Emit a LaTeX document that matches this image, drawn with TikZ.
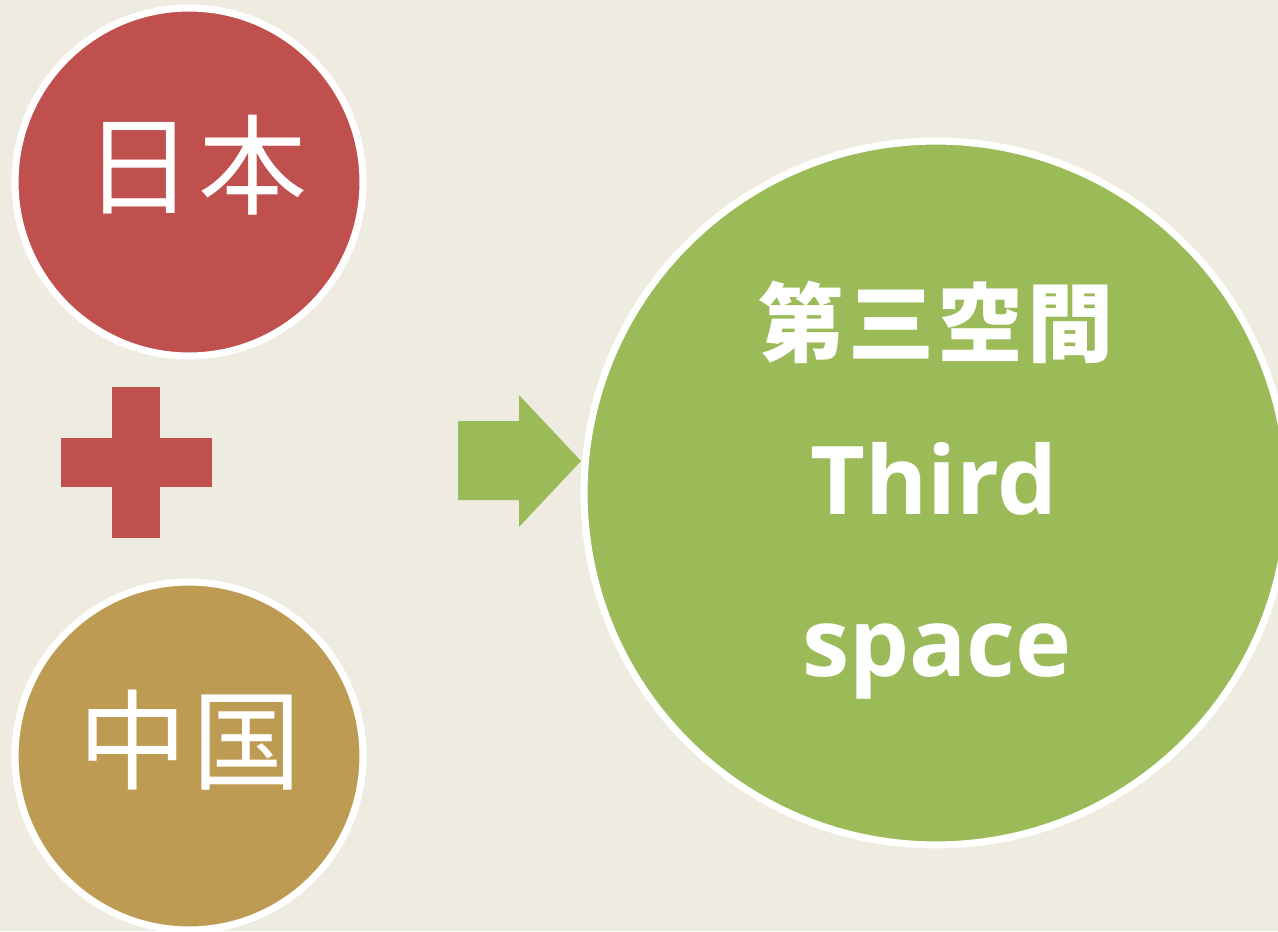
\documentclass[tikz,border=0pt]{standalone}
\usepackage{fontspec}
\newfontfamily\cjk{Noto Sans CJK JP}
\newfontfamily\lat{Open Sans}
\definecolor{bgc}{HTML}{EEECE1}
\definecolor{redc}{HTML}{C0504D}
\definecolor{tanc}{HTML}{BE9B53}
\definecolor{greenc}{HTML}{9BBB59}
\tikzset{
  ball/.style={circle, draw=white, line width=4pt, inner sep=0pt, text=white},
  bar/.style={fill=redc, draw=none},
}
\begin{document}
\begin{tikzpicture}[x=0.02cm, y=-0.02cm]
\fill[bgc] (0,0) rectangle (1278,931);
\useasboundingbox (0,0) rectangle (1278,931);
\clip (0,0) rectangle (1278,931);
% circles
\node[ball, fill=redc, minimum size=6.96cm] (jp) at (189,182) {};
\node[ball, fill=tanc, minimum size=6.96cm] (cn) at (189,756) {};
\node[ball, fill=greenc, minimum size=14.08cm] (ts) at (936,493) {};
% texts
\node[text=white, font=\cjk\fontsize{62}{62}\selectfont] (jpt) at (196,165) {日\kern3pt本};
\node[text=white, font=\cjk\fontsize{62}{62}\selectfont] (cnt) at (190,740) {中\kern3pt国};
\node[text=white, font=\cjk\bfseries\fontsize{49}{49}\selectfont] (t1) at (936,322) {第\kern2pt三\kern2pt空\kern2pt間};
\node[text=white, font=\lat\bfseries\fontsize{54}{54}\selectfont, anchor=base] (t2) at (934,514) {Third};
\node[text=white, font=\lat\bfseries\fontsize{54}{54}\selectfont, anchor=base] (t3) at (937,676) {space};
% plus sign
\fill[bar] (61,438) rectangle (212,487);
\fill[bar] (112,387) rectangle (160,538);
% block arrow
\fill[greenc] (458,421) -- (519,421) -- (519,395) -- (581,461) -- (519,527) -- (519,500) -- (458,500) -- cycle;
\end{tikzpicture}
\end{document}
